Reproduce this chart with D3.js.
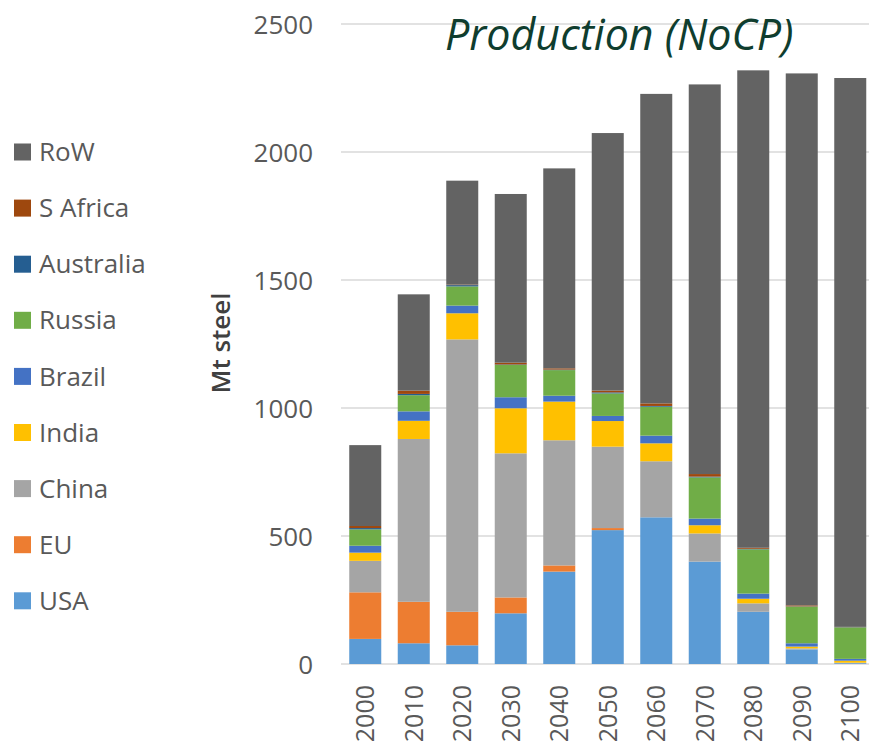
<!DOCTYPE html>
<html>
<head>
<meta charset="utf-8">
<script src="https://cdn.jsdelivr.net/npm/d3@7"></script>
<style>
  body { margin: 0; background: #fff; }
  svg text { font-family: "Open Sans", "Noto Sans", sans-serif; }
</style>
</head>
<body>
<div id="chart"></div>
<script>
// Years on the x axis
var years = ["2000", "2010", "2020", "2030", "2040", "2050", "2060", "2070", "2080", "2090", "2100"];

// Series, bottom to top of each stack (Mt steel)
var usa       = [98, 81, 73, 198, 361, 523, 573, 400, 204, 57, 3];
var eu        = [182, 162, 131, 62, 24, 8, 0, 0, 0, 0, 0];
var china     = [123, 636, 1064, 563, 489, 318, 219, 110, 33, 4, 2];
var india     = [32, 71, 102, 176, 151, 100, 70, 32, 18, 7, 8];
var brazil    = [27, 37, 30, 43, 23, 20, 30, 26, 20, 13, 7];
var russia    = [64, 63, 75, 126, 100, 88, 113, 161, 173, 143, 123];
var australia = [5, 5, 5, 2, 2, 4, 3, 3, 2, 1, 1];
var safrica   = [8, 13, 2, 7, 5, 7, 10, 10, 4, 4, 1];
var row       = [316, 376, 406, 659, 781, 1006, 1209, 1522, 1865, 2078, 2144];

var seriesNames = ["USA", "EU", "China", "India", "Brazil", "Russia", "Australia", "S Africa", "RoW"];
var seriesValues = [usa, eu, china, india, brazil, russia, australia, safrica, row];
var seriesColors = ["#5b9bd5", "#ed7d31", "#a5a5a5", "#ffc000", "#4472c4", "#70ad47", "#255e91", "#9e480e", "#636363"];

var yTicks = [0, 500, 1000, 1500, 2000, 2500];

var width = 869, height = 744;

var svg = d3.select("#chart").append("svg")
  .attr("width", width)
  .attr("height", height);

// build rows for d3.stack
var table = years.map(function(y, i) {
  var r = { year: y };
  seriesNames.forEach(function(name, k) { r[name] = seriesValues[k][i]; });
  return r;
});

var x = d3.scaleBand()
  .domain(years)
  .range([341, 874.5])
  .paddingInner(0.34)
  .paddingOuter(0.17);

var y = d3.scaleLinear()
  .domain([0, 2500])
  .range([664, 24]);

var color = d3.scaleOrdinal().domain(seriesNames).range(seriesColors);

// gridlines
svg.append("g")
  .selectAll("line")
  .data(yTicks)
  .enter()
  .append("line")
  .attr("x1", 341)
  .attr("x2", width)
  .attr("y1", function(d) { return y(d); })
  .attr("y2", function(d) { return y(d); })
  .attr("stroke", "#d9d9d9")
  .attr("stroke-width", 1.5);

// y axis labels
var yAxis = d3.axisLeft(y).tickValues(yTicks).tickFormat(d3.format("d")).tickSize(0).tickPadding(0);
var yg = svg.append("g")
  .attr("transform", "translate(313,0)")
  .call(yAxis);
yg.select(".domain").remove();
yg.selectAll("text")
  .attr("fill", "#595959")
  .style("font-size", "26px")
  .attr("dy", "0.35em");

// stacked bars
var stacked = d3.stack().keys(seriesNames)(table);

svg.append("g")
  .selectAll("g")
  .data(stacked)
  .enter()
  .append("g")
  .attr("fill", function(d) { return color(d.key); })
  .selectAll("rect")
  .data(function(d) { return d; })
  .enter()
  .append("rect")
  .attr("x", function(d) { return x(d.data.year); })
  .attr("width", x.bandwidth())
  .attr("y", function(d) { return y(d[1]); })
  .attr("height", function(d) { return Math.max(0, y(d[0]) - y(d[1])); });

// x axis labels, rotated
var xAxis = d3.axisBottom(x).tickSize(0).tickPadding(0);
var xg = svg.append("g")
  .attr("transform", "translate(0,685)")
  .call(xAxis);
xg.select(".domain").remove();
xg.selectAll("text")
  .attr("fill", "#595959")
  .style("font-size", "25px")
  .attr("text-anchor", "end")
  .attr("transform", "rotate(-90)")
  .attr("x", 0)
  .attr("y", 0)
  .attr("dy", "0.35em");

// y axis title
svg.append("text")
  .attr("transform", "translate(221,343) rotate(-90)")
  .attr("text-anchor", "middle")
  .attr("dy", "0.35em")
  .attr("fill", "#404040")
  .style("font-size", "26px")
  .style("font-weight", "600")
  .text("Mt steel");

// chart title
svg.append("text")
  .attr("x", 445)
  .attr("y", 50)
  .attr("fill", "#0f3d2e")
  .style("font-size", "43px")
  .style("font-style", "italic")
  .text("Production (NoCP)");

// legend, RoW at top
var legendNames = seriesNames.slice().reverse();
var legend = svg.append("g")
  .selectAll("g")
  .data(legendNames)
  .enter()
  .append("g")
  .attr("transform", function(d, i) { return "translate(14," + (152 + i * 56.1) + ")"; });

legend.append("rect")
  .attr("x", 0)
  .attr("y", -8.5)
  .attr("width", 17)
  .attr("height", 17)
  .attr("fill", function(d) { return color(d); });

legend.append("text")
  .attr("x", 25)
  .attr("y", 0)
  .attr("dy", "0.35em")
  .attr("fill", "#595959")
  .style("font-size", "26px")
  .text(function(d) { return d; });
</script>
</body>
</html>
